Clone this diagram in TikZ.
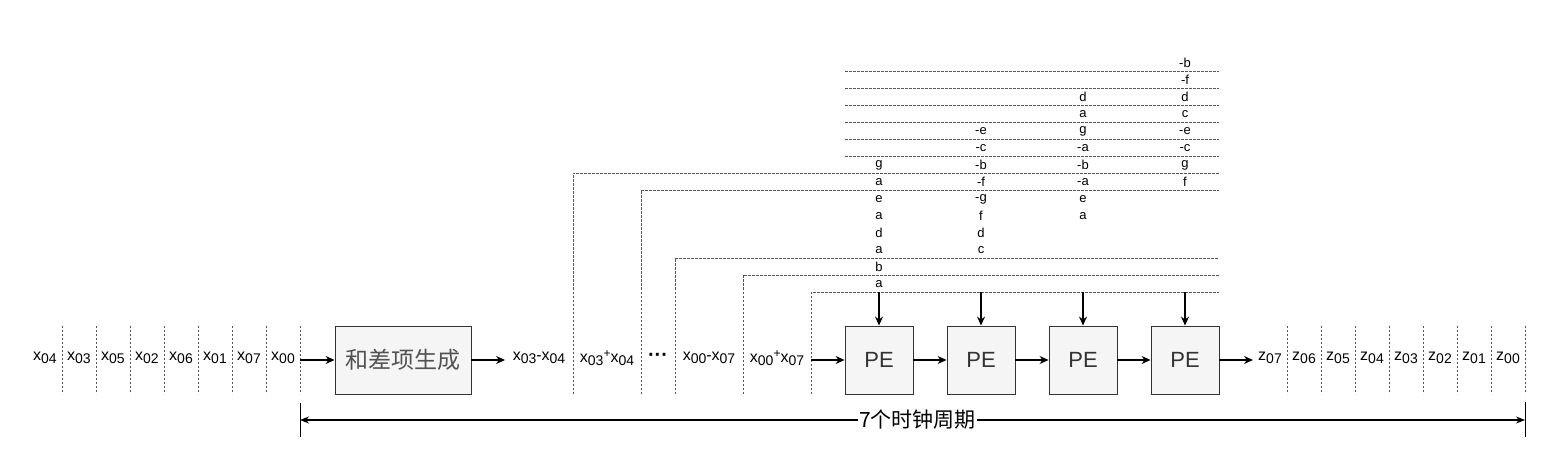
\documentclass[tikz,border=0pt]{standalone}
\usepackage{fontspec}
\setmainfont{Liberation Sans}
\newfontfamily\cjk{Noto Sans CJK SC}
\usepackage{tikz}
\usetikzlibrary{arrows.meta, positioning}
\definecolor{boxfill}{HTML}{F5F5F5}
\definecolor{boxline}{HTML}{333333}
\definecolor{dotgray}{HTML}{555555}
\tikzset{
	seqtext/.style={font=\fontsize{16}{18}\selectfont, inner sep=0pt, minimum height=20},
	coeftext/.style={font=\fontsize{13}{14}\selectfont, inner sep=0pt}
}
\tikzset{
	blockbox/.style={draw=boxline, fill=boxfill, line width=0.9pt, inner sep=0pt,
		minimum width=68, minimum height=68, text=boxline},
	flowarrow/.style={-{Stealth[length=9pt, width=8pt]}, line width=1.2pt},
	sepline/.style={dotgray, line width=0.7pt, dash pattern=on 2pt off 2pt},
	busline/.style={dotgray, line width=0.7pt, dash pattern=on 2.5pt off 1.5pt}
}
\newcommand{\sub}[1]{\raisebox{-0.4ex}{\fontsize{14}{15}\selectfont #1}}
\newcommand{\sups}[1]{\raisebox{0.55ex}{\fontsize{12}{13}\selectfont #1}}

\begin{document}
\begin{tikzpicture}[x=1pt, y=-1pt]
      \useasboundingbox (0,0) rectangle (1552,454);
      % input samples
      \foreach \x/\l [count=\i] in {45/04, 79/03, 113/05, 147/02, 181/06, 215/01, 249/07, 283/00}
        \node[seqtext, minimum width=34] (in\i) at (\x,358) {x\sub{\l}};
      \foreach \x in {62,96,...,300}
        \draw[sepline] (\x,326) -- (\x,394);
      \coordinate (inend) at (300,360);
      \node[blockbox, minimum width=136, font=\cjk\fontsize{23}{24}\selectfont, text=boxline!85] (hc) at (403,360) {和差项生成};
      \draw[flowarrow] (inend) -- (hc.west);
      % sums and differences
      \node[seqtext, minimum width=68] (m1) at (539,358) {x\sub{03}-x\sub{04}};
      \node[seqtext, minimum width=68] (m2) at (607,358) {x\sub{03}\sups{+}x\sub{04}};
      \node[seqtext, minimum width=34, font=\fontsize{20}{20}\selectfont\bfseries] (m3) at (658,357) {···};
      \node[seqtext, minimum width=68] (m4) at (709,358) {x\sub{00}-x\sub{07}};
      \node[seqtext, minimum width=68] (m5) at (777,358) {x\sub{00}\sups{+}x\sub{07}};
      \coordinate (m1in) at (505,360);
      \draw[flowarrow] (hc.east) -- (m1in);
      \foreach \x/\y in {573/173, 641/190, 675/258, 743/275, 811/292}
        \draw[busline] (\x,394) -- (\x,\y) -- (1219,\y);
      \foreach \y in {71,88,...,156}
        \draw[busline] (845,\y) -- (1219,\y);
      % processing elements
      \foreach \x [count=\i] in {879,981,1083,1185} {
        \node[blockbox, font=\fontsize{22}{23}\selectfont] (pe\i) at (\x,360) {PE};
        \coordinate (tap\i) at (\x,292);
        \draw[flowarrow] (tap\i) -- (pe\i.north);
      }
      \coordinate (m5end) at (811,360);
      \draw[flowarrow] (m5end) -- (pe1.west);
      \foreach \a/\b in {1/2, 2/3, 3/4}
        \draw[flowarrow] (pe\a.east) -- (pe\b.west);
      % coefficients fed to each PE
      \foreach \x/\k/\vals [count=\ci] in {879/6/{g,a,e,a,d,a,b,a}, 981/4/{-e,-c,-b,-f,-g,f,d,c},
          1083/2/{d,a,g,-a,-b,-a,e,a}, 1185/0/{-b,-f,d,c,-e,-c,g,f}}
        \foreach \v [count=\j from \k] in \vals
          \node[coeftext] (cf\ci-\j) at (\x,63+17*\j) {\v};
      % outputs
      \foreach \x/\l [count=\i] in {1270/07, 1304/06, 1338/05, 1372/04, 1406/03, 1440/02, 1474/01, 1508/00}
        \node[seqtext, minimum width=34] (out\i) at (\x,358) {z\sub{\l}};
      \foreach \x in {1287,1321,...,1525}
        \draw[sepline] (\x,326) -- (\x,394);
      \coordinate (outstart) at (1253,360);
      \draw[flowarrow] (pe4.east) -- (outstart);
      % clock periods
      \coordinate (dl) at (300,420);
      \coordinate (dr) at (1525,420);
      \draw[line width=1pt] (300,403) -- (300,437);
      \draw[line width=1pt] (1525,402) -- (1525,437);
      \draw[{Stealth[length=9pt, width=7pt]}-{Stealth[length=9pt, width=7pt]}, line width=1.1pt] (dl) -- (dr)
        node[pos=0.504, fill=white, inner sep=1pt, font=\cjk\fontsize{21}{22}\selectfont] (period) {7个时钟周期};
\end{tikzpicture}
\end{document}
